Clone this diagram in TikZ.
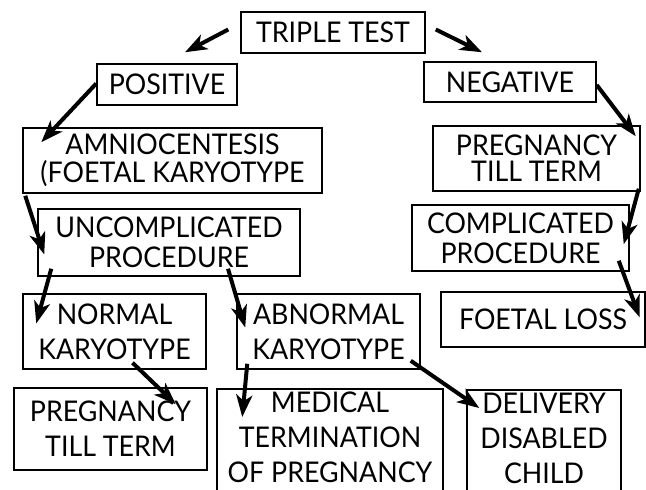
\documentclass[tikz,border=0pt]{standalone}
\usepackage{fontspec}
\setmainfont[FakeStretch=0.94]{Lato}
\usetikzlibrary{arrows.meta}

\begin{document}
\begin{tikzpicture}
	[x=1pt,y=-1pt,->,>={Stealth[length=22pt,width=16pt,inset=6pt]},
		box/.style={draw,line width=1.5pt,inner sep=0pt,align=center},
		lines/.style={font=\fontsize{28.5}{#1}\selectfont},
		open box/.style={box,lines=35,anchor=north,inner ysep=2pt,text height=92pt,text depth=30pt},
		arr/.style={line width=4pt}]

	\useasboundingbox (0,0) rectangle (646,490);
	\clip (0,0) rectangle (646,490);

	\node[box,lines=30,minimum width=184pt,minimum height=41pt] (tt) at (333,32.5) {TRIPLE TEST};
	\node[box,lines=30,minimum width=140pt,minimum height=41pt] (pos) at (167,84.5) {POSITIVE};
	\node[box,lines=30,minimum width=172pt,minimum height=40pt] (neg) at (510,82) {NEGATIVE};
	\node[box,lines=28,minimum width=299pt,minimum height=65pt] (amn) at (172.5,160.5) {AMNIOCENTESIS\\(FOETAL KARYOTYPE};
	\node[box,lines=26,minimum width=207pt,minimum height=65pt] (termR) at (536.5,158.5) {PREGNANCY\\TILL TERM};
	\node[box,lines=30,minimum width=262pt,minimum height=67pt] (unc) at (169,242.5) {UNCOMPLICATED\\PROCEDURE};
	\node[box,lines=30,minimum width=217pt,minimum height=66pt] (comp) at (520.5,238) {COMPLICATED\\PROCEDURE};
	\node[box,lines=35,minimum width=183pt,minimum height=75pt] (norm) at (114.5,331.5) {NORMAL\\KARYOTYPE};
	\node[box,lines=35,minimum width=183pt,minimum height=75pt] (abn) at (328.5,331.5) {ABNORMAL\\KARYOTYPE};
	\node[box,lines=30,minimum width=204pt,minimum height=55pt] (loss) at (543,319.5) {FOETAL LOSS};
	\node[box,lines=35,minimum width=193pt,minimum height=82pt] (termL) at (110.5,429) {PREGNANCY\\TILL TERM};
	\node[open box,minimum width=226pt] (med) at (330,388) {MEDICAL\\TERMINATION\\OF PREGNANCY};
	\node[open box,minimum width=154pt] (del) at (544,389) {DELIVERY\\DISABLED\\CHILD};

	\path[arr]
	([shift={(-12,-3)}]tt.west)  edge ([shift={(18,-11)}]pos.north)
	([shift={(10,-3)}]tt.east)   edge ([shift={(-28,-9)}]neg.north)
	([shift={(0,-1)}]pos.west)   edge ([shift={(19,15)}]amn.north west)
	([shift={(0,3)}]neg.east)    edge ([shift={(-5,11)}]termR.north east)
	([shift={(3,2)}]amn.south west) edge ([shift={(7,12)}]unc.west)
	([shift={(-2,-3)}]termR.south east) edge ([shift={(-6,40)}]comp.north east)
	([shift={(-11,-11)}]comp.south east) edge ([shift={(-6,-2)}]loss.east)
	([shift={(14,-8)}]unc.south west) edge ([shift={(14,-8)}]norm.west)
	([shift={(59,-8)}]unc.south)  edge ([shift={(9,-4)}]abn.west)
	([shift={(18,-7)}]norm.south) edge ([shift={(-32,17)}]termL.north east)
	([shift={(11,-6)}]abn.south west) edge ([shift={(26,29)}]med.north west)
	([shift={(-10,-9)}]abn.south east) edge ([shift={(13,19)}]del.north west)
	;

\end{tikzpicture}
\end{document}
